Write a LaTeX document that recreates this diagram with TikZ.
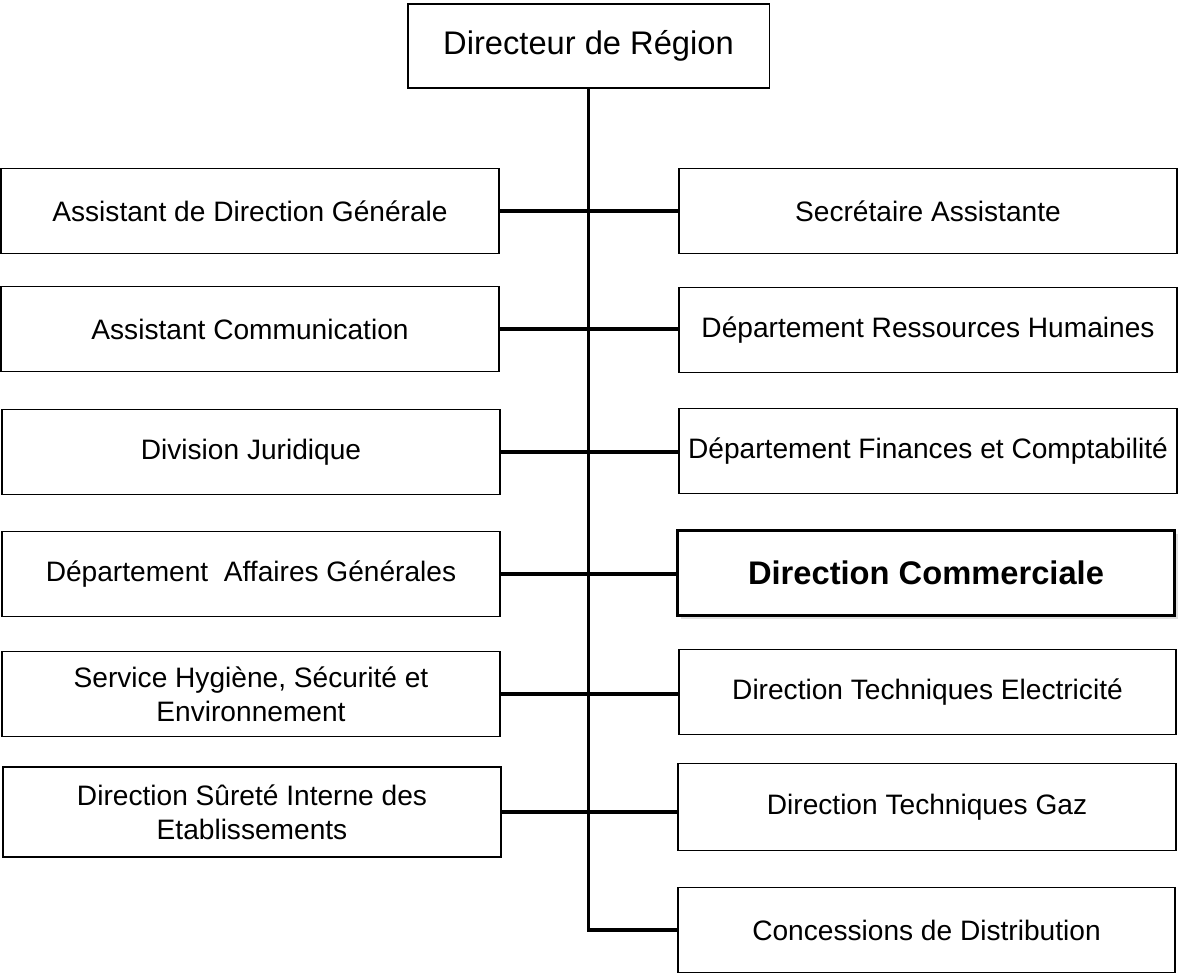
\documentclass[tikz,border=0pt]{standalone}
\usepackage{fontspec}
\setmainfont{Liberation Sans}
\usetikzlibrary{shadows}

\begin{document}
\begin{tikzpicture}[
        x=0.02cm, y=-0.02cm,
        unit/.style={rectangle, draw, line width=1.1pt, minimum width=9.95cm, minimum height=1.7cm, align=center, inner sep=2pt, font=\fontsize{16}{19.3}\selectfont},
        head/.style={rectangle, draw, line width=1.1pt, minimum width=7.24cm, minimum height=1.68cm, font=\fontsize{18.6}{22}\selectfont},
        link/.style={line width=2pt}
    ]
        \useasboundingbox (0,0) rectangle (1180,974);

        % Head of the region
        \node[head] (dir) at (588.5,46) {Directeur de Région};

        % Left column
        \node[unit] (adg) at (250,211) {Assistant de Direction Générale};
        \node[unit] (acom) at (250,329) {Assistant Communication};
        \node[unit] (jur) at (251,452) {Division Juridique};
        \node[unit] (dag) at (251,574) {Département~ Affaires Générales};
        \node[unit] (hse) at (251,694) {Service Hygiène, Sécurité et\\Environnement};
        \node[unit, minimum height=1.8cm] (dsie) at (252,812) {Direction Sûreté Interne des\\Etablissements};

        % Right column
        \node[unit] (sec) at (928,211) {Secrétaire Assistante};
        \node[unit] (drh) at (928,330) {Département Ressources Humaines};
        \node[unit] (dfc) at (928,451) {Département Finances et Comptabilité};
        \node[unit, line width=1.6pt, drop shadow={shadow xshift=2pt, shadow yshift=-2pt, opacity=0.25}, fill=white,
              font=\fontsize{18.6}{22}\selectfont\bfseries] (dcom) at (926,573) {Direction Commerciale};
        \node[unit] (dte) at (927.5,692) {Direction Techniques Electricité};
        \node[unit, minimum height=1.74cm] (dtg) at (927,807) {Direction Techniques Gaz};
        \node[unit] (cdd) at (926.5,930) {Concessions de Distribution};

        % Trunk and branches
        \draw[link] (dir.south) |- (cdd.west);
        \draw[link] (adg.east) -- (adg.east -| sec.west);
        \draw[link] (acom.east) -- (acom.east -| drh.west);
        \draw[link] (jur.east) -- (jur.east -| dfc.west);
        \draw[link] (dag.east) -- (dag.east -| dcom.west);
        \draw[link] (hse.east) -- (hse.east -| dte.west);
        \draw[link] (dsie.east) -- (dsie.east -| dtg.west);
    \end{tikzpicture}
\end{document}
